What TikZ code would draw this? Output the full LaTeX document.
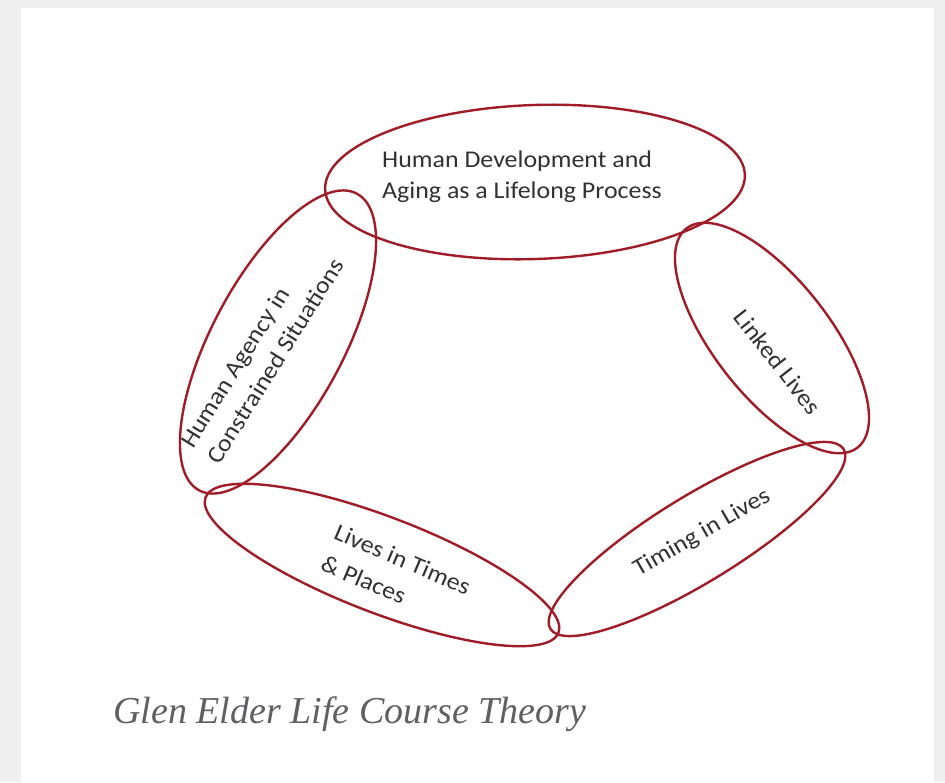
\documentclass[tikz,border=0pt]{standalone}
\usepackage{fontspec}
\setmainfont{Carlito}
\newfontfamily\lblfont[FakeStretch=1.08]{Carlito}
\newfontfamily\capfont{Liberation Serif}
\usetikzlibrary{shapes.geometric}
\definecolor{ringred}{RGB}{160,28,40}
\definecolor{txtgray}{RGB}{50,50,50}
\definecolor{capgray}{RGB}{95,95,100}
\definecolor{bggray}{RGB}{239,239,239}
\tikzset{
  ring/.style={draw=ringred, line width=2.4pt, ellipse, inner sep=0pt},
  lbl/.style={text=txtgray, font=\lblfont\fontsize{24}{31}\selectfont, inner sep=0pt}
}
\begin{document}
\begin{tikzpicture}[x=1pt,y=-1pt]
\useasboundingbox (0,0) rectangle (945,782);
\fill[bggray] (0,0) rectangle (945,782);
\fill[white] (21,8) rectangle (934,782);
% rings
\node[ring, minimum width=420pt, minimum height=154pt, rotate=2] (dev) at (535,182) {};
\node[ring, minimum width=336pt, minimum height=132pt, rotate=62] (agency) at (278,342) {};
\node[ring, minimum width=278pt, minimum height=116pt, rotate=-52] (linked) at (772,338) {};
\node[ring, minimum width=378pt, minimum height=96pt, rotate=-21] (places) at (382,565) {};
\node[ring, minimum width=344pt, minimum height=86pt, rotate=31.5] (timing) at (697,539) {};
% labels
\node[lbl, align=left] (tdev) at (522,177) {Human Development and\\Aging as a Lifelong Process};
\node[lbl, align=left, rotate=58] (tagency) at (262,353) {Human Agency in\\Constrained Situations};
\node[lbl, rotate=-52] (tlinked) at (778,362) {Linked Lives};
\node[lbl, align=left, rotate=-23, font=\lblfont\fontsize{24}{34}\selectfont] (tplaces) at (396,575) {Lives in Times\\\& Places};
\node[lbl, rotate=30] (ttiming) at (702,533) {Timing in Lives};
% caption
\node[anchor=base west, text=capgray, font=\capfont\itshape\fontsize{38}{42}\selectfont, inner sep=0pt] (cap) at (113,723) {Glen Elder Life Course Theory};
\end{tikzpicture}
\end{document}
